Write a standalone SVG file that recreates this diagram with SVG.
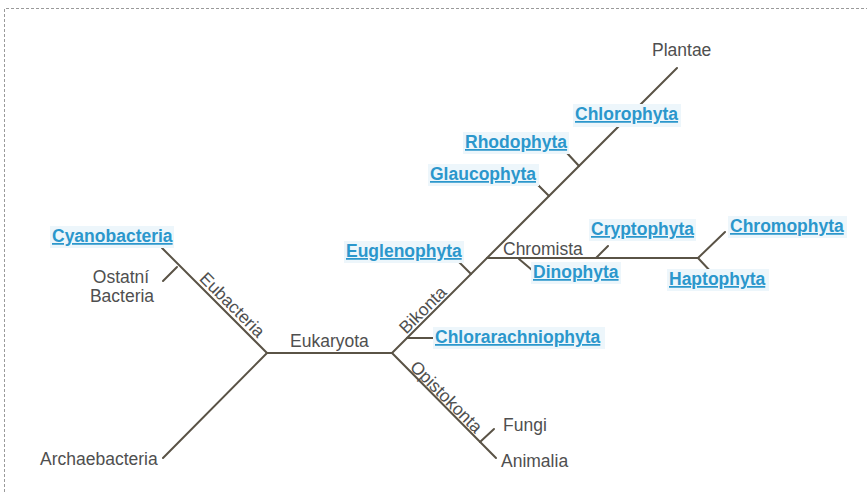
<svg xmlns="http://www.w3.org/2000/svg" width="867" height="492" viewBox="0 0 867 492">
<style>
.ln{stroke:#5a5346;stroke-width:2;fill:none;stroke-linecap:round}
.g{font-family:"Liberation Sans",Arial,sans-serif;font-size:17.5px;fill:#4f4f4f}
.b{font-family:"Liberation Sans",Arial,sans-serif;font-size:17.5px;font-weight:bold;fill:#2b97cc;text-decoration:underline}
.hl{fill:#edf6fb}
.border{stroke:#9a9a9a;stroke-width:1;stroke-dasharray:3 2;fill:none}
</style>
<rect width="867" height="492" fill="#ffffff"/>
<path class="border" d="M4.5,492 V8.5 H867"/>
<g id="connectors">
<line class="ln" x1="267" y1="353" x2="392" y2="353"/>
<line class="ln" x1="267" y1="353" x2="162" y2="248"/>
<line class="ln" x1="163" y1="281" x2="177" y2="267"/>
<line class="ln" x1="267" y1="353" x2="163" y2="458"/>
<line class="ln" x1="392" y1="353" x2="677" y2="68"/>
<line class="ln" x1="407" y1="338" x2="433" y2="338"/>
<line class="ln" x1="458" y1="261" x2="471" y2="274"/>
<line class="ln" x1="536" y1="183" x2="549" y2="196"/>
<line class="ln" x1="567" y1="153" x2="579" y2="166"/>
<line class="ln" x1="487" y1="258" x2="698" y2="258"/>
<line class="ln" x1="519" y1="259" x2="532" y2="270"/>
<line class="ln" x1="596" y1="258" x2="608" y2="246"/>
<line class="ln" x1="698" y1="258" x2="725" y2="232"/>
<line class="ln" x1="698" y1="258" x2="713" y2="274"/>
<line class="ln" x1="392" y1="353" x2="496" y2="458"/>
<line class="ln" x1="480" y1="442" x2="494" y2="429"/>
</g>
<g id="eukaryota"><text class="g" x="290" y="347">Eukaryota</text></g>
<g id="eubacteria"><text class="g" text-anchor="middle" transform="translate(228,309) rotate(45)">Eubacteria</text></g>
<g id="cyanobacteria"><rect class="hl" x="50" y="226" width="124" height="22"/><text class="b" x="52" y="242">Cyanobacteria</text></g>
<g id="ostatni"><text class="g" text-anchor="middle" x="121" y="283">Ostatní</text><text class="g" text-anchor="middle" x="122" y="302">Bacteria</text></g>
<g id="archaebacteria"><text class="g" x="40" y="465">Archaebacteria</text></g>
<g id="bikonta"><text class="g" text-anchor="middle" transform="translate(427,314) rotate(-45)">Bikonta</text></g>
<g id="opistokonta"><text class="g" text-anchor="middle" transform="translate(442,401) rotate(45)">Opistokonta</text></g>
<g id="fungi"><text class="g" x="503" y="431">Fungi</text></g>
<g id="animalia"><text class="g" x="501" y="467">Animalia</text></g>
<g id="chlorarachniophyta"><rect class="hl" x="433" y="327" width="172" height="22"/><text class="b" x="435" y="343">Chlorarachniophyta</text></g>
<g id="euglenophyta"><rect class="hl" x="344" y="241" width="120" height="22"/><text class="b" x="346" y="257">Euglenophyta</text></g>
<g id="glaucophyta"><rect class="hl" x="428" y="164" width="111" height="22"/><text class="b" x="430" y="180">Glaucophyta</text></g>
<g id="rhodophyta"><rect class="hl" x="463" y="132" width="106" height="22"/><text class="b" x="465" y="148">Rhodophyta</text></g>
<g id="chlorophyta"><rect class="hl" x="573" y="104" width="108" height="23"/><text class="b" x="575" y="120">Chlorophyta</text></g>
<g id="plantae"><text class="g" x="652" y="56">Plantae</text></g>
<g id="chromista"><text class="g" x="503" y="255">Chromista</text></g>
<g id="dinophyta"><rect class="hl" x="531" y="262" width="90" height="22"/><text class="b" x="533" y="278">Dinophyta</text></g>
<g id="cryptophyta"><rect class="hl" x="589" y="219" width="107" height="22"/><text class="b" x="591" y="235">Cryptophyta</text></g>
<g id="chromophyta"><rect class="hl" x="728" y="216" width="119" height="22"/><text class="b" x="730" y="232">Chromophyta</text></g>
<g id="haptophyta"><rect class="hl" x="667" y="269" width="102" height="22"/><text class="b" x="669" y="285">Haptophyta</text></g>
</svg>
